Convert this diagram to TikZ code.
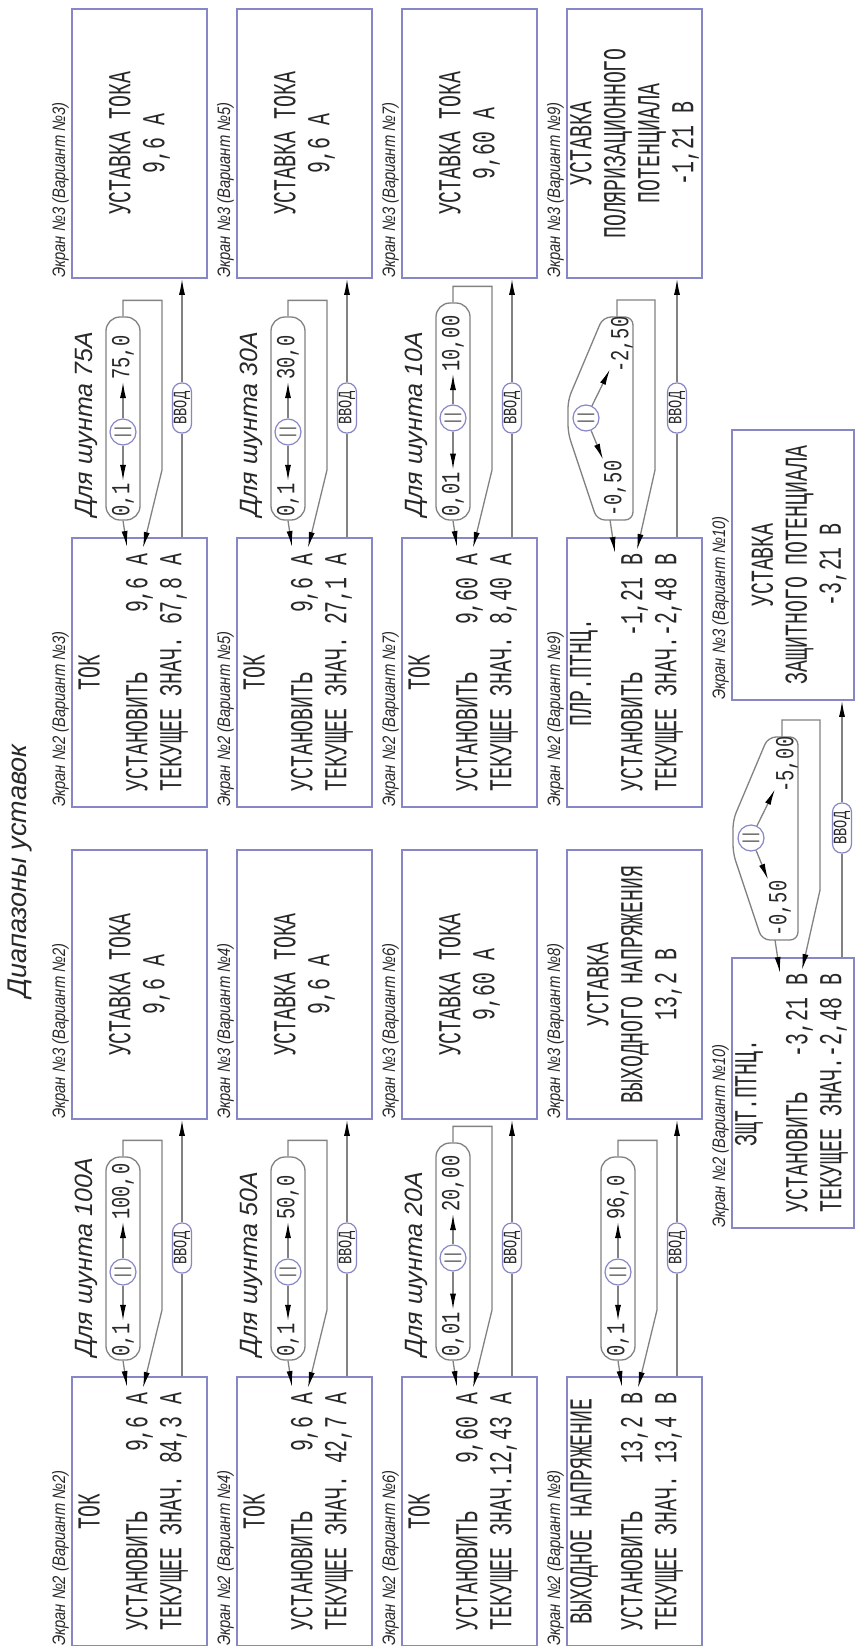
\documentclass[tikz,border=0pt]{standalone}
\usepackage{fontspec}
\usetikzlibrary{arrows.meta}
\newfontfamily\monof[FakeStretch=0.62]{Liberation Mono}
\newfontfamily\pillf[FakeStretch=0.72]{Liberation Mono}
\newfontfamily\italf[FakeStretch=0.82]{Liberation Sans}
\newfontfamily\italw{Liberation Sans}
\definecolor{boxc}{RGB}{135,135,200}
\definecolor{linec}{RGB}{130,130,130}
\definecolor{txtc}{RGB}{40,40,40}
\tikzset{
 scr/.style={draw=boxc, line width=1.6pt, rectangle, rotate=90, inner sep=0},
 bt/.style={rotate=90, inner sep=0, text=txtc, font=\monof\fontsize{32}{34}\selectfont, align=center},
 scrcap/.style={rotate=90, inner sep=0, text=txtc, font=\italf\itshape\fontsize{18}{20}\selectfont, anchor=base west},
 shl/.style={rotate=90, inner sep=0, text=txtc, font=\italw\itshape\fontsize{25}{27}\selectfont, anchor=base west},
 pill/.style={draw=linec, line width=1.3pt, rectangle, rounded corners=14pt, rotate=90, inner sep=0},
 pt/.style={rotate=90, inner sep=0, text=txtc, font=\pillf\fontsize{26}{28}\selectfont},
 sw/.style={draw=boxc, line width=1.2pt, circle, minimum size=26pt, inner sep=0, rotate=90, font=\pillf\fontsize{18}{18}\selectfont, text=txtc},
 vv/.style={draw=boxc, line width=1.2pt, rectangle, rounded corners=9pt, minimum width=50pt, minimum height=19pt, rotate=90, inner sep=0, font=\pillf\fontsize{19}{19}\selectfont, text=txtc},
 wire/.style={draw=linec, line width=1.3pt},
 arr/.style={wire, -{Latex[length=16pt,width=6pt,color=black]}},
}
% id, left, top, text, caption
\newcommand\ustscr[5]{%
 \node[scr, minimum width=269pt, minimum height=135pt] (#1) at ({#2+67.5},{#3+134.5}) {};
 \node[bt] (#1t) at ({#2+67.5},{#3+134.5}) {#4};
 \node[scrcap] (#1c) at ({#2-7},{#3+269}) {#5};}
% id, left, top, title, set, current, caption
\newcommand\tokscr[7]{%
 \node[scr, minimum width=269pt, minimum height=135pt] (#1) at ({#2+67.5},{#3+134.5}) {};
 \node[bt] (#1t) at ({#2+17},{#3+134.5}) {#4};
 \node[bt] (#1v) at ({#2+85.5},{#3+134.5}) {\begin{tabular}{@{}l@{}r@{}}УСТАНОВИТЬ&#5\\ТЕКУЩЕЕ ЗНАЧ.&#6\end{tabular}};
 \node[scrcap] (#1c) at ({#2-7},{#3+269}) {#7};}
% id, cx, pilltop, pillbot, circleY, hiY, lo, hi
\newcommand\pillsw[8]{%
 \pgfmathsetmacro\pilllen{#4-#3}\pgfmathsetmacro\pillctr{(#4+#3)/2}
 \node[pill, minimum width=\pilllen pt, minimum height=34pt] (#1p) at (#2,\pillctr) {};
 \node[sw] (#1s) at (#2,#5) {||};
 \node[pt, anchor=west] (#1lo) at (#2,{#4-3}) {#7};
 \node[pt, anchor=west] (#1hi) at (#2,#6) {#8};
 \draw[arr, shorten >=2pt] (#1s) -- (#1lo);
 \draw[arr, shorten >=2pt] (#1s) -- (#1hi);
 \coordinate (#1k1) at ({#2+4},{#4+27});
 \coordinate (#1k2) at ({#2+20},{#4+28});
 \coordinate (#1k3) at ({#2+39},{#4-50});
 \draw[arr] (#1p.west) -- (#1k1);
 \draw[arr] (#1p.east) -- ++(0,-16) -| (#1k3) -- (#1k2);}
% id, c, T, lo, hi
\newcommand\pentsw[5]{%
 \coordinate (#1a) at ({#2+50},{#3-221});
 \coordinate (#1b) at ({#2+43},{#3-18});
 \draw[wire, rounded corners=8pt] ({#2+66},{#3-160}) -- ({#2+66},{#3-18}) -- ({#2+30},{#3-18}) -- ({#2+1},{#3-105}) -- ({#2+1},{#3-138}) -- ({#2+36},{#3-221}) -- ({#2+66},{#3-221}) -- cycle;
 \node[sw] (#1s) at ({#2+19},{#3-120}) {||};
 \node[pt, anchor=west] (#1lo) at ({#2+48},{#3-21}) {#4};
 \node[pt, anchor=west] (#1hi) at ({#2+55},{#3-165}) {#5};
 \draw[arr, shorten >=2pt] (#1s) -- (#1lo);
 \draw[arr, shorten >=2pt] (#1s) -- (#1hi);
 \coordinate (#1k1) at ({#2+48},{#3+15});
 \coordinate (#1k2) at ({#2+70},{#3+12});
 \coordinate (#1k3) at ({#2+88},{#3-68});
 \draw[arr] (#1b) -- (#1k1);
 \draw[arr] (#1a) -- ++(0,-17) -| (#1k3) -- (#1k2);}
% id, x, yc, upper box, lower box
\newcommand\vvod[5]{%
 \node[vv] (#1) at (#2,#3) {ВВОД};
 \draw[wire] (#1.west) -- (#1.west |- #5.east);
 \draw[arr] (#1.east) -- (#1.east |- #4.west);}
\begin{document}
\begin{tikzpicture}[x=1pt,y=-1pt]
\useasboundingbox (0,0) rectangle (856,1646);
\clip (0,0) rectangle (856,1646);
\fill[white] (0,0) rectangle (856,1646);
\node[rotate=90, anchor=base, inner sep=0, text=txtc, font=\italw\itshape\fontsize{27}{29}\selectfont] (title) at (27,871) {Диапазоны уставок};
% row 1
\ustscr{u1}{72}{9}{УСТАВКА ТОКА\\9,6 А}{Экран №3 (Вариант №3)}
\ustscr{u3}{237}{9}{УСТАВКА ТОКА\\9,6 А}{Экран №3 (Вариант №5)}
\ustscr{u5}{402}{9}{УСТАВКА ТОКА\\9,60 А}{Экран №3 (Вариант №7)}
\ustscr{u7}{567}{9}{УСТАВКА\\ПОЛЯРИЗАЦИОННОГО\\ПОТЕНЦИАЛА\\-1,21 В}{Экран №3 (Вариант №9)}
% row 2
\tokscr{t1}{72}{538}{ТОК}{9,6 А}{~67,8 А}{Экран №2 (Вариант №3)}
\tokscr{t3}{237}{538}{ТОК}{9,6 А}{~27,1 А}{Экран №2 (Вариант №5)}
\tokscr{t5}{402}{538}{ТОК}{9,60 А}{~8,40 А}{Экран №2 (Вариант №7)}
\tokscr{t7}{567}{538}{ПЛР.ПТНЦ.}{-1,21 В}{-2,48 В}{Экран №2 (Вариант №9)}
% row 3
\ustscr{u0}{72}{850}{УСТАВКА ТОКА\\9,6 А}{Экран №3 (Вариант №2)}
\ustscr{u2}{237}{850}{УСТАВКА ТОКА\\9,6 А}{Экран №3 (Вариант №4)}
\ustscr{u4}{402}{850}{УСТАВКА ТОКА\\9,60 А}{Экран №3 (Вариант №6)}
\ustscr{u6}{567}{850}{УСТАВКА\\ВЫХОДНОГО НАПРЯЖЕНИЯ\\13,2 В}{Экран №3 (Вариант №8)}
% row 4
\tokscr{t0}{72}{1377}{ТОК}{9,6 А}{~84,3 А}{Экран №2 (Вариант №2)}
\tokscr{t2}{237}{1377}{ТОК}{9,6 А}{~42,7 А}{Экран №2 (Вариант №4)}
\tokscr{t4}{402}{1377}{ТОК}{9,60 А}{12,43 А}{Экран №2 (Вариант №6)}
\tokscr{t6}{567}{1377}{ВЫХОДНОЕ НАПРЯЖЕНИЕ}{13,2 В}{~13,4 В}{Экран №2 (Вариант №8)}
% column E
\node[scr, minimum width=270pt, minimum height=122pt] (e1) at (793,565) {};
\node[bt] (e1t) at (799,565) {УСТАВКА\\ЗАЩИТНОГО ПОТЕНЦИАЛА\\-3,21 В};
\node[scrcap] (e1c) at (725,700) {Экран №3 (Вариант №10)};
\node[scr, minimum width=270pt, minimum height=122pt] (e2) at (793,1093) {};
\node[bt] (e2t) at (749,1093) {ЗЩТ.ПТНЦ.};
\node[bt] (e2v) at (817.5,1093) {\begin{tabular}{@{}l@{}r@{}}УСТАНОВИТЬ&-3,21 В\\ТЕКУЩЕЕ ЗНАЧ.&-2,48 В\end{tabular}};
\node[scrcap] (e2c) at (725,1228) {Экран №2 (Вариант №10)};
% shunt labels
\node[shl] (l1) at (92,517) {Для шунта 75А};
\node[shl] (l3) at (257,517) {Для шунта 30А};
\node[shl] (l5) at (422,517) {Для шунта 10А};
\node[shl] (l0) at (92,1357) {Для шунта 100А};
\node[shl] (l2) at (257,1357) {Для шунта 50А};
\node[shl] (l4) at (422,1357) {Для шунта 20А};
% switches
\pillsw{pa}{123}{317}{520}{432}{380}{0,1}{75,0}
\pillsw{pb}{288}{317}{520}{432}{380}{0,1}{30,0}
\pillsw{pc}{453}{303}{520}{418}{372}{0,01}{10,00}
\pillsw{qa}{123}{1157}{1360}{1272}{1220}{0,1}{100,0}
\pillsw{qb}{288}{1157}{1360}{1272}{1220}{0,1}{50,0}
\pillsw{qc}{453}{1143}{1360}{1258}{1212}{0,01}{20,00}
\pillsw{qd}{618}{1157}{1360}{1272}{1220}{0,1}{96,0}
\pentsw{pd}{567}{538}{-0,50}{-2,50}
\pentsw{pe}{732}{958}{-0,50}{-5,00}
% enter buttons
\vvod{v1}{182}{408}{u1}{t1}
\vvod{v3}{347}{408}{u3}{t3}
\vvod{v5}{512}{408}{u5}{t5}
\vvod{v7}{677}{408}{u7}{t7}
\vvod{v0}{182}{1248}{u0}{t0}
\vvod{v2}{347}{1248}{u2}{t2}
\vvod{v4}{512}{1248}{u4}{t4}
\vvod{v6}{677}{1248}{u6}{t6}
\vvod{v9}{842}{828}{e1}{e2}
\end{tikzpicture}
\end{document}
